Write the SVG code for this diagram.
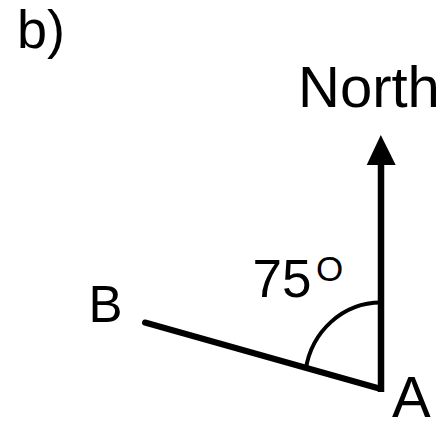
<svg xmlns="http://www.w3.org/2000/svg" width="444" height="424" viewBox="0 0 444 424">
<style>
text{font-family:"Liberation Sans",Arial,sans-serif;fill:#000}
.ln{stroke:#000;fill:none}
</style>
<rect width="444" height="424" fill="#fff"/>
<text x="17" y="48" font-size="54">b)</text>
<g id="north"><text x="298" y="107" font-size="58">North</text></g>
<g id="B"><text x="88.5" y="321.7" font-size="51">B</text></g>
<g id="A"><text x="392" y="417" font-size="58">A</text></g>
<g id="angle">
<text x="252.5" y="297" font-size="53">75</text>
<text x="316" y="281" font-size="35">O</text>
</g>
<g id="connectors">
<line class="ln" x1="381" y1="392" x2="381" y2="162" stroke-width="6.5"/>
<polygon points="366.7,165 380.8,135 395.7,165" fill="#000"/>
<line class="ln" x1="145" y1="322.5" x2="381" y2="389" stroke-width="6" stroke-linecap="round"/>
<path class="ln" d="M381,302.5 A76,79.5 0 0 0 305.7,370" stroke-width="4"/>
</g>
</svg>
